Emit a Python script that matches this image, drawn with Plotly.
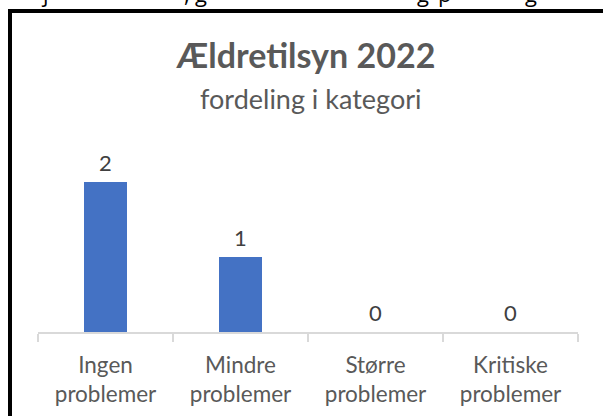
import plotly.graph_objects as go

categories = ["Ingen<br>problemer", "Mindre<br>problemer", "Større<br>problemer", "Kritiske<br>problemer"]
values = [2, 1, 0, 0]
title_text = "Ældretilsyn 2022"
subtitle_text = "fordeling i kategori"

FONT = "Lato, Calibri, 'Open Sans', sans-serif"
W, H = 603, 416
L, R, T, B = 38, 25, 152, 84
plot_h = H - T - B
plot_w = W - L - R

def px_x(p):
    return (p - L) / plot_w

def px_y(p):
    return (H - B - p) / plot_h

fig = go.Figure()
fig.add_trace(go.Bar(
    x=categories, y=values, width=0.32,
    marker=dict(color="#4472C4", line=dict(width=0)),
    hoverinfo="skip",
))

annotations = []
for c, v in zip(categories, values):
    annotations.append(dict(
        x=c, y=v, xref="x", yref="y", text=str(v), showarrow=False,
        yanchor="middle", yshift=20,
        font=dict(family=FONT, size=22, color="#404040"),
    ))

annotations.append(dict(
    x=0.5, y=px_y(98), xref="paper", yref="paper", text=subtitle_text,
    showarrow=False, yanchor="middle", xanchor="center", xshift=3,
    font=dict(family=FONT, size=27, color="#595959"),
))

# cut-off text fragments above the chart frame
frag_chars = ["j", ",", "g", "g", "p", "g"]
frag_px = [45, 187, 201, 423, 444, 531]
for ch, xp in zip(frag_chars, frag_px):
    annotations.append(dict(
        x=px_x(xp), y=px_y(0), xref="paper", yref="paper", text=ch,
        showarrow=False, yanchor="middle", xanchor="center", yshift=7,
        font=dict(family="'Open Sans', sans-serif", size=22, color="#000000"),
    ))

shapes = [
    dict(type="line", xref="paper", yref="paper",
         x0=px_x(10), x1=px_x(W + 5), y0=px_y(11), y1=px_y(11),
         line=dict(color="black", width=4)),
    dict(type="line", xref="paper", yref="paper",
         x0=px_x(10), x1=px_x(10), y0=px_y(9), y1=px_y(H + 5),
         line=dict(color="black", width=4)),
]

fig.update_layout(
    width=W, height=H,
    margin=dict(l=L, r=R, t=T, b=B, pad=0, autoexpand=False),
    paper_bgcolor="white", plot_bgcolor="white",
    showlegend=False,
    title=dict(text=f"<b>{title_text}</b>", x=(306) / W, xanchor="center",
               y=1 - 56 / H, yanchor="middle", yref="container",
               font=dict(family=FONT, size=34, color="#595959")),
    xaxis=dict(
        type="category", range=[-0.5, 3.5], automargin=False,
        showline=True, linecolor="#D9D9D9", linewidth=1.5,
        ticks="outside", tickson="boundaries", ticklen=8, tickcolor="#D9D9D9", tickwidth=1.5,
        ticklabelstandoff=12,
        showgrid=False, zeroline=False,
        tickfont=dict(family=FONT, size=22.5, color="#595959"),
        fixedrange=True,
    ),
    yaxis=dict(range=[0, plot_h / 75], visible=False, automargin=False,
               showgrid=False, zeroline=False, fixedrange=True),
    annotations=annotations,
    shapes=shapes,
    bargap=0,
)

fig.write_html("out.html", config={"displayModeBar": False},
               post_script="document.body.style.margin='0';document.body.style.overflow='hidden';")
